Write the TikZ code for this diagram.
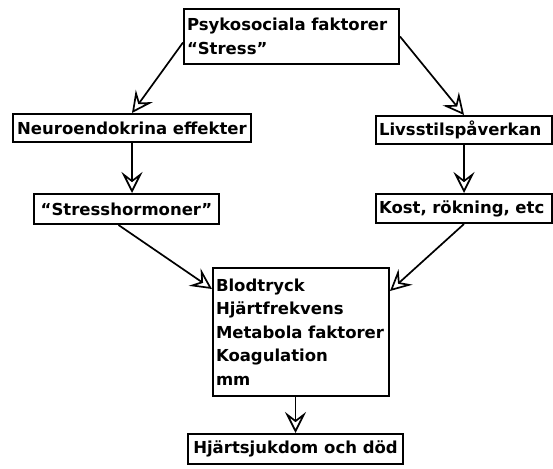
\documentclass[tikz,border=0pt]{standalone}
\usepackage{fontspec}
\setmainfont{DejaVu Sans}
\usetikzlibrary{arrows.meta,calc}
\begin{document}
\begin{tikzpicture}[x=1pt,y=-1pt,
  box/.style={draw,line width=2pt,rectangle,anchor=north west,inner xsep=3pt,inner ysep=0pt,
    font=\bfseries\fontsize{16.5}{23.5}\selectfont,align=left},
  conn/.style={line width=1.7pt,-{Stealth[open,length=21pt,width=21pt,inset=8pt,line width=1.7pt]}}]
\useasboundingbox (0,0) rectangle (553,468);
\node[box,minimum width=215pt,minimum height=55pt,text width=209pt] (top) at (183,8) {Psykosociala faktorer\\“Stress”};
\node[box,minimum width=238pt,minimum height=28pt] (neuro) at (12,113) {Neuroendokrina effekter};
\node[box,minimum width=185pt,minimum height=30pt] (stress) at (33,193) {“Stresshormoner”};
\node[box,minimum width=176pt,minimum height=28pt,text width=170pt] (livs) at (375,115) {Livsstilspåverkan};
\node[box,minimum width=176pt,minimum height=29pt,text width=170pt] (kost) at (375,193) {Kost, rökning, etc};
\node[box,minimum width=176pt,minimum height=128pt,text width=170pt] (central) at (212,267) {Blodtryck\\Hjärtfrekvens\\Metabola faktorer\\Koagulation\\mm};
\node[box,minimum width=215pt,minimum height=30pt] (final) at (187,433) {Hjärtsjukdom och död};
\draw[conn] ([yshift=-6pt]top.west) -- (neuro.north);
\draw[conn] (top.east) -- (livs.north);
\draw[conn] (neuro.south) -- (neuro.south |- stress.north);
\draw[conn] (livs.south) -- (kost.north);
\draw[conn] ([xshift=-8pt]stress.south) -- ([yshift=-22pt]central.north west);
\draw[conn] (kost.south) -- ([yshift=-24pt]central.north east);
\draw[conn] (final.north |- central.south) -- (final.north);
\end{tikzpicture}
\end{document}
